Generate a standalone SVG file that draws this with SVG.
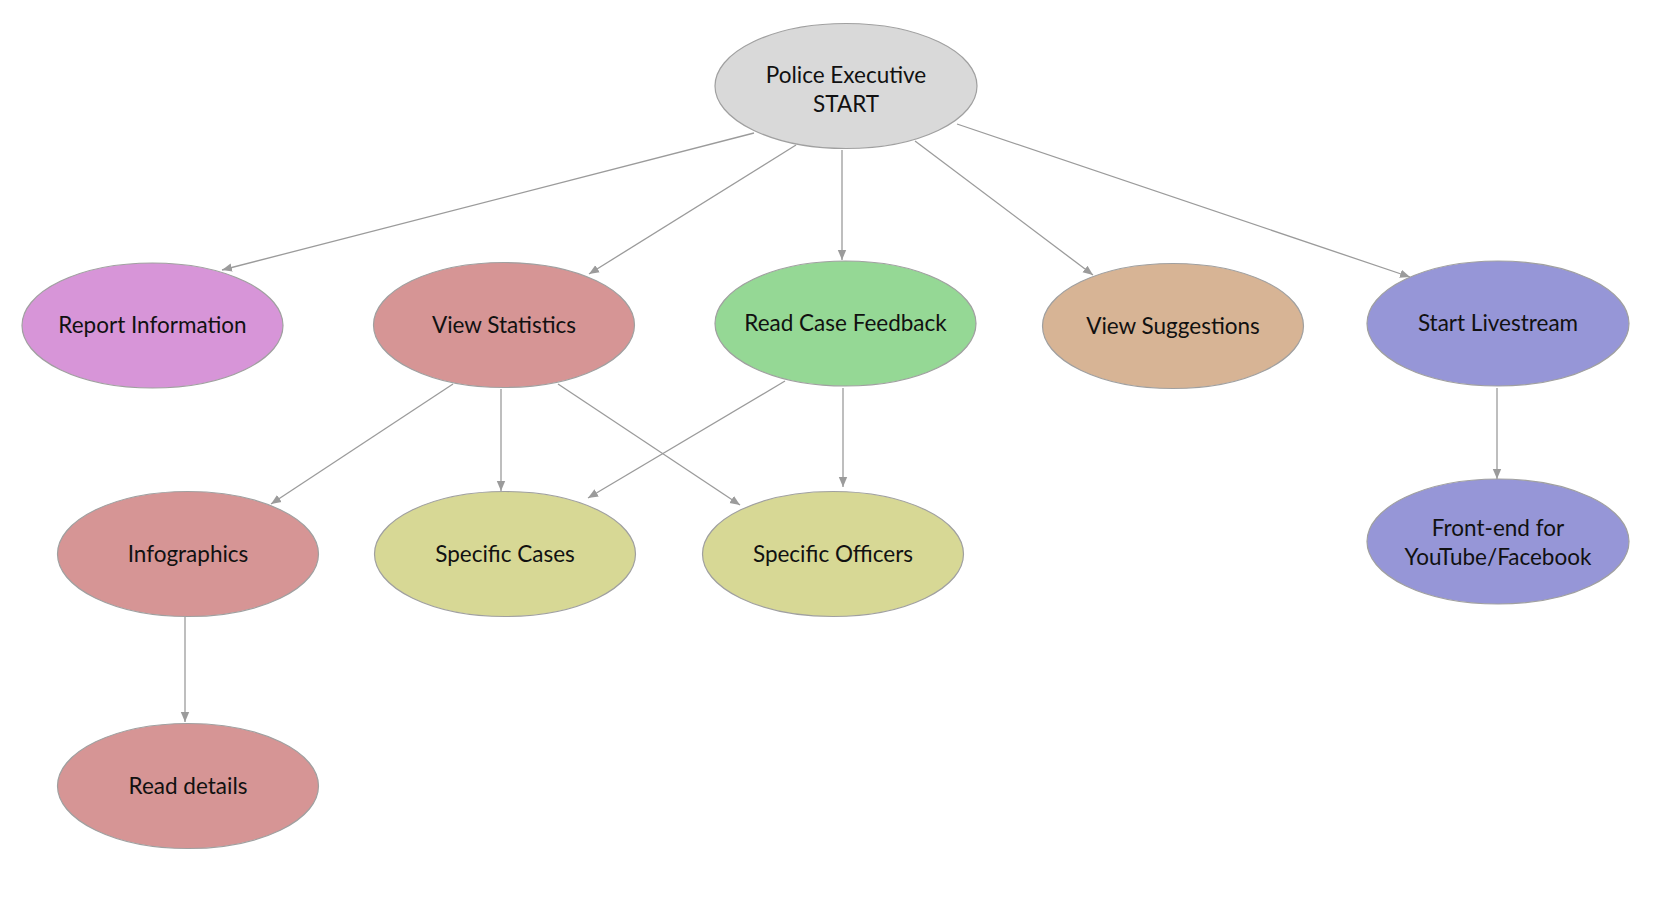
<svg xmlns="http://www.w3.org/2000/svg" width="1658" height="916" viewBox="0 0 1658 916">
<defs>
<marker id="arr" viewBox="0 0 10 10" refX="10" refY="5" markerWidth="10" markerHeight="10" markerUnits="userSpaceOnUse" orient="auto">
<path d="M0,0.8 L10,5 L0,9.2 z" fill="#9b9b9b"/>
</marker>
<style>
.n ellipse{stroke:#a0a0a0;stroke-width:1.2}
.n text{font-family:Lato,"Noto Sans",sans-serif;font-size:22.5px;fill:#111;text-anchor:middle}
.e line{stroke:#9b9b9b;stroke-width:1.3;marker-end:url(#arr)}
</style>
</defs>
<rect width="1658" height="916" fill="#fff"/>
<g id="connectors" class="e">
<line x1="754" y1="133" x2="222" y2="270"/>
<line x1="796" y1="145" x2="589" y2="274"/>
<line x1="842" y1="150" x2="842" y2="260"/>
<line x1="915" y1="141" x2="1093" y2="275"/>
<line x1="957" y1="124" x2="1410" y2="277"/>
<line x1="453" y1="384" x2="271" y2="504"/>
<line x1="501" y1="389" x2="501" y2="491"/>
<line x1="558" y1="384" x2="740" y2="505"/>
<line x1="785" y1="381" x2="588" y2="498"/>
<line x1="843" y1="388" x2="843" y2="487"/>
<line x1="185" y1="617" x2="185" y2="722"/>
<line x1="1497" y1="388" x2="1497" y2="479"/>
</g>
<g id="start" class="n"><ellipse cx="846" cy="86" rx="131" ry="62.5" fill="#d9d9d9"/><text x="846" y="83">Police Executive</text><text x="846" y="112">START</text></g>
<g id="report" class="n"><ellipse cx="152.5" cy="325.5" rx="130.5" ry="62.5" fill="#d795d8"/><text x="152.5" y="333">Report Information</text></g>
<g id="stats" class="n"><ellipse cx="504" cy="325" rx="130.5" ry="62.5" fill="#d69595"/><text x="504" y="333">View Statistics</text></g>
<g id="feedback" class="n"><ellipse cx="845.5" cy="323.5" rx="130.5" ry="62.5" fill="#95d895"/><text x="845.5" y="331">Read Case Feedback</text></g>
<g id="suggestions" class="n"><ellipse cx="1173" cy="326" rx="130.5" ry="62.5" fill="#d7b495"/><text x="1173" y="334">View Suggestions</text></g>
<g id="livestream" class="n"><ellipse cx="1498" cy="323.5" rx="131" ry="62.5" fill="#9696d7"/><text x="1498" y="331">Start Livestream</text></g>
<g id="infographics" class="n"><ellipse cx="188" cy="554" rx="130.5" ry="62.5" fill="#d69595"/><text x="188" y="562">Infographics</text></g>
<g id="cases" class="n"><ellipse cx="505" cy="554" rx="130.5" ry="62.5" fill="#d7d895"/><text x="505" y="562">Specific Cases</text></g>
<g id="officers" class="n"><ellipse cx="833" cy="554" rx="130.5" ry="62.5" fill="#d7d895"/><text x="833" y="562">Specific Officers</text></g>
<g id="frontend" class="n"><ellipse cx="1498" cy="541.5" rx="131" ry="62.5" fill="#9696d7"/><text x="1498" y="536">Front-end for</text><text x="1498" y="565">YouTube/Facebook</text></g>
<g id="details" class="n"><ellipse cx="188" cy="786" rx="130.5" ry="62.5" fill="#d69595"/><text x="188" y="794">Read details</text></g>
</svg>
